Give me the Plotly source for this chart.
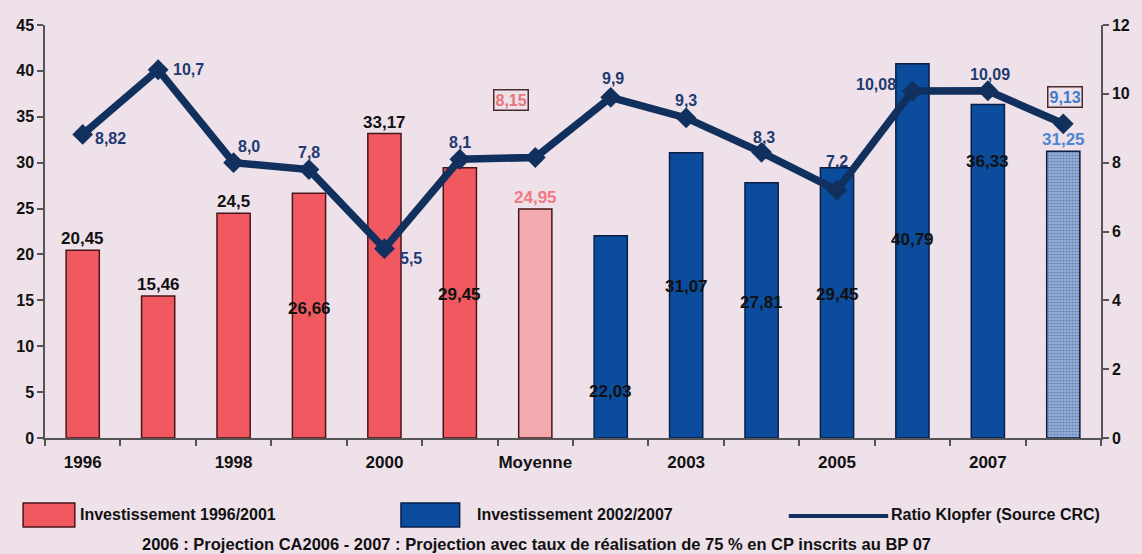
import plotly.graph_objects as go

# ---- data ----
categories = ["1996", "1997", "1998", "1999", "2000", "2001", "Moyenne",
              "2002", "2003", "2004", "2005", "2006", "2007", "Moyenne 2002/2007"]
invest_1996_2001 = [20.45, 15.46, 24.5, 26.66, 33.17, 29.45, 24.95]
invest_2002_2007 = [22.03, 31.07, 27.81, 29.45, 40.79, 36.33, 31.25]
ratio_klopfer = [8.82, 10.7, 8.0, 7.8, 5.5, 8.1, 8.15, 9.9, 9.3, 8.3, 7.2, 10.08, 10.09, 9.13]
tick_labels = ["1996", "1998", "2000", "Moyenne", "2003", "2005", "2007"]
left_ticks = [0, 5, 10, 15, 20, 25, 30, 35, 40, 45]
right_ticks = [0, 2, 4, 6, 8, 10, 12]
legend_names = ["Investissement 1996/2001", "Investissement 2002/2007", "Ratio Klopfer (Source CRC)"]
footnote = "2006 : Projection CA2006 - 2007 : Projection avec taux de réalisation de 75 % en CP inscrits au BP 07"

# ---- styles ----
BG = "#EEE1EA"
RED = "#F0595F"
PINK = "#F2AAAE"
BLUE = "#0B4C9C"
LBLUE = "#8EABDC"
NAVY = "#11305E"
FONT = "Liberation Sans"
W, H = 1142, 554
ML, MR, MT, MB = 45, 35, 25, 116
PW, PH = W - ML - MR, H - MT - MB


def px(xp):
    return (xp - ML) / PW


def py(yp):
    return (H - MB - yp) / PH


x_all = list(range(len(categories)))
x_a = x_all[:7]
x_b = x_all[7:]

# bar-label placement (style): above / middle / low / high
bar_label_pos = ["above", "above", "above", "mid", "above", "mid", "above",
                 "low", "mid", "mid", "mid", "mid", "high", "above"]
bar_label_col = ["#111"] * 6 + ["#F07A80"] + ["#111"] * 6 + ["#4D86CF"]
# line-label offsets (style, pixels)
line_label_shift = [(28, -4), (30, 0), (15, 16), (0, 17), (27, -10), (0, 17), (-24, 58),
                    (2, 19), (0, 17), (2, 15), (0, 29), (-36, 7), (2, 16), (2, 27)]
boxed = {6: "#E8747C", 13: "#3F7BCB"}

fig = go.Figure()

fig.add_trace(go.Bar(
    x=x_a, y=invest_1996_2001, name=legend_names[0], showlegend=False,
    marker=dict(color=[RED] * 6 + [PINK], line=dict(color="#4A1518", width=1.5)),
    width=0.44,
))
fig.add_trace(go.Bar(
    x=x_b, y=invest_2002_2007, name=legend_names[1], showlegend=False,
    marker=dict(color=[BLUE] * 6 + [LBLUE], line=dict(color="#0A1F45", width=1.5),
                pattern=dict(shape=[""] * 6 + ["."], fgcolor="#9DB6E2", size=3,
                             solidity=0.25, fillmode="overlay")),
    width=0.44,
))
fig.add_trace(go.Scatter(
    x=x_all, y=ratio_klopfer, name=legend_names[2], yaxis="y2", showlegend=False,
    mode="lines+markers",
    line=dict(color=NAVY, width=7.5),
    marker=dict(symbol="diamond", size=16, color=NAVY),
))

annotations = []
bar_values = invest_1996_2001 + invest_2002_2007
for i, v in enumerate(bar_values):
    pos = bar_label_pos[i]
    txt = str(v).replace(".", ",")
    if pos == "above":
        y, ya = v, "bottom"
    elif pos == "mid":
        y, ya = v * 0.53, "middle"
    elif pos == "low":
        y, ya = v * 0.23, "middle"
    else:
        y, ya = v * 0.83, "middle"
    annotations.append(dict(x=i, y=y, xref="x", yref="y", text=txt, showarrow=False,
                            yanchor=ya, font=dict(family=FONT, size=17, color=bar_label_col[i],
                                                  weight="bold")))

for i, v in enumerate(ratio_klopfer):
    dx, dy = line_label_shift[i]
    txt = str(v).replace(".", ",")
    a = dict(x=i, y=v, xref="x", yref="y2", text=txt, showarrow=False,
             xshift=dx, yshift=dy,
             font=dict(family=FONT, size=16, color="#1F3A70", weight="bold"))
    if i in boxed:
        a.update(bordercolor="#4A2A2A", borderwidth=1.5, borderpad=1,
                 font=dict(family=FONT, size=16, color=boxed[i], weight="bold"))
    annotations.append(a)

# legend (drawn below the plot)
shapes = [
    dict(type="rect", xref="paper", yref="paper", x0=px(23), x1=px(75), y0=py(527), y1=py(503),
         fillcolor=RED, line=dict(color="#4A1518", width=1.5)),
    dict(type="rect", xref="paper", yref="paper", x0=px(403), x1=px(462), y0=py(527), y1=py(503),
         fillcolor=BLUE, line=dict(color="#0A1F45", width=1.5)),
    dict(type="line", xref="paper", yref="paper", x0=px(793), x1=px(893), y0=py(516), y1=py(516),
         line=dict(color=NAVY, width=4)),
]
for name, xpos in zip(legend_names, [78, 477, 894]):
    annotations.append(dict(x=px(xpos), y=py(514), xref="paper", yref="paper", text=name,
                            showarrow=False, xanchor="left", yanchor="middle",
                            font=dict(family=FONT, size=16, color="#111", weight="bold")))

annotations.append(dict(
    x=px(141), y=py(544), xref="paper", yref="paper", showarrow=False,
    xanchor="left", yanchor="middle", text=footnote,
    font=dict(family=FONT, size=16.5, color="#111", weight="bold")))

fig.update_layout(
    width=W, height=H,
    paper_bgcolor=BG, plot_bgcolor=BG,
    margin=dict(l=ML, r=MR, t=MT, b=MB),
    barmode="overlay",
    showlegend=False,
    shapes=shapes,
    xaxis=dict(range=[-0.5, 13.5], tickvals=[0, 2, 4, 6, 8, 10, 12], ticktext=tick_labels,
               ticks="", showgrid=False, zeroline=False, showline=True, linecolor="#555",
               linewidth=1.5, ticklabelstandoff=8,
               tickfont=dict(family=FONT, size=17, color="#111", weight="bold"),
               minor=dict(tickvals=[k + 0.5 for k in range(-1, 14)], ticks="outside",
                          ticklen=6, tickcolor="#555", tickwidth=1.5, showgrid=False)),
    yaxis=dict(range=[0, 45], tickvals=left_ticks, ticks="outside", ticklen=6,
               tickcolor="#555", tickwidth=1.5, showgrid=False, zeroline=False,
               showline=True, linecolor="#555", linewidth=1.5,
               tickfont=dict(family=FONT, size=16, color="#111", weight="bold")),
    yaxis2=dict(range=[0, 12], tickvals=right_ticks, overlaying="y", side="right",
                ticks="outside", ticklen=6, tickcolor="#555", tickwidth=1.5,
                showgrid=False, zeroline=False, showline=True, linecolor="#555",
                linewidth=1.5,
                tickfont=dict(family=FONT, size=16, color="#111", weight="bold")),
    annotations=annotations,
)

fig.write_html("out.html", config={"displayModeBar": False},
               post_script="document.body.style.margin='0px';document.body.style.overflow='hidden';")
